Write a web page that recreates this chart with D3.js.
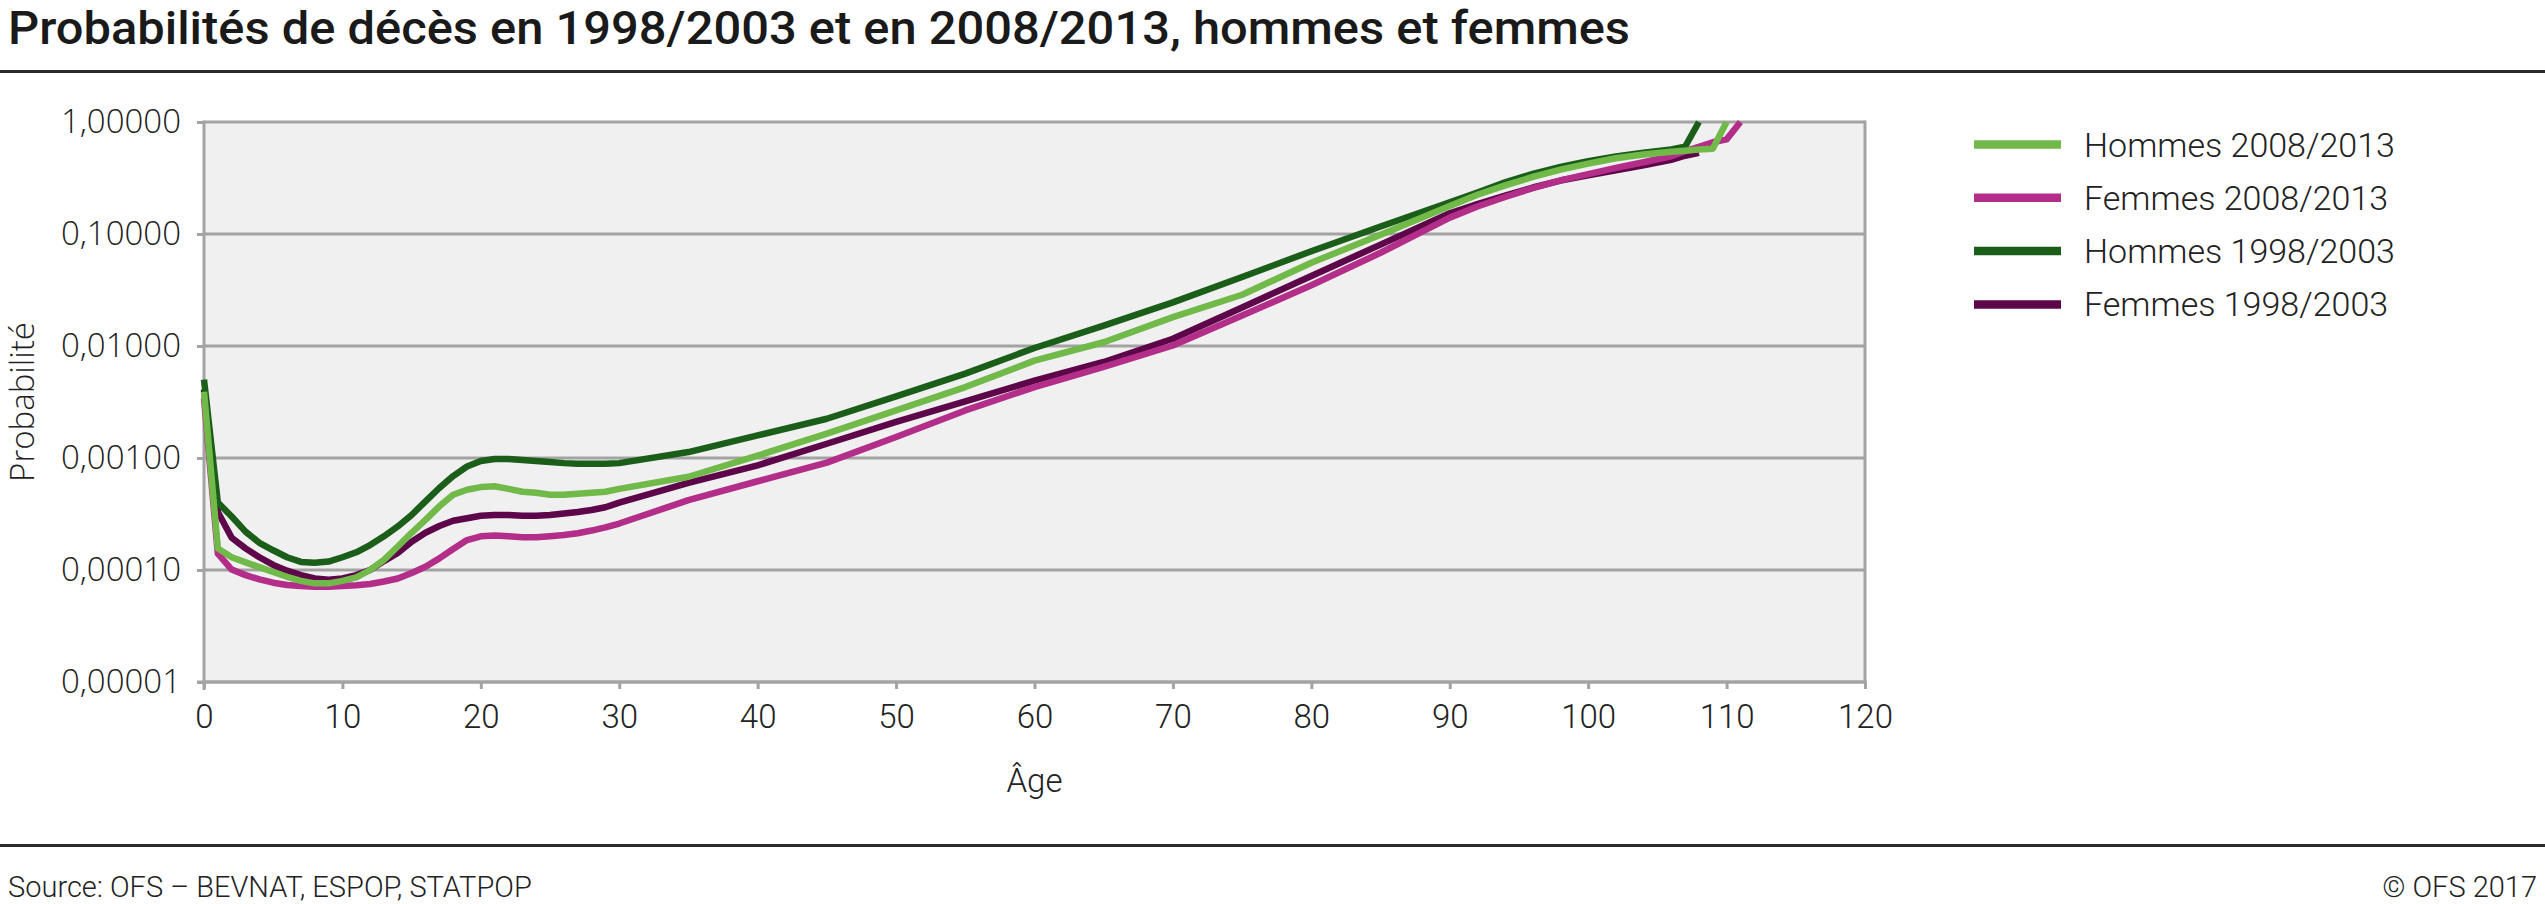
<!DOCTYPE html>
<html>
<head>
<meta charset="utf-8">
<script src="https://cdn.jsdelivr.net/npm/d3@7"></script>
<style>
  html, body { margin: 0; padding: 0; background: #ffffff; }
  svg { display: block; }
</style>
</head>
<body>
<svg id="chart" width="2545" height="904"></svg>
<script>
// ---------- data ----------
const ages = [0,1,2,3,4,5,6,7,8,9,10,11,12,13,14,15,16,17,18,19,20,21,22,23,24,25,26,27,28,29,30,
              35,40,45,50,55,60,65,70,75,80,85,90,92,94,96,98,100,102,104,106,107,108,109,110,111];

const hommes2008 = [0.0039,0.000156,0.00013,0.000117,0.000106,0.000096,0.000087,0.00008,0.000076,0.000076,
  0.00008,0.000086,0.0001,0.000123,0.000162,0.000215,0.00028,0.00037,0.00047,0.00052,
  0.00055,0.00056,0.00053,0.0005,0.00049,0.00047,0.00047,0.00048,0.00049,0.0005,0.00053,
  0.00068,0.00105,0.00165,0.00266,0.0043,0.0074,0.0108,0.0181,0.0287,0.0553,0.0986,0.178,
  0.224,0.272,0.323,0.376,0.425,0.475,0.513,0.542,0.555,0.569,0.576,1.0,null];

const femmes2008 = [0.0034,0.00014,0.000101,0.00009,0.0000826,0.000077,0.0000735,0.000072,0.000071,0.000071,
  0.000072,0.000073,0.000075,0.000079,0.000084,0.000094,0.000107,0.000127,0.000154,0.000185,
  0.0002,0.000203,0.0002,0.000196,0.000196,0.0002,0.000205,0.000213,0.000225,0.00024,0.00026,
  0.00042,0.00062,0.00091,0.00154,0.00266,0.0043,0.0065,0.0101,0.0187,0.0349,0.068,0.14,
  0.176,0.214,0.257,0.301,0.343,0.389,0.437,0.495,0.55,0.60,0.66,0.70,1.0];

const hommes1998 = [0.005,0.0004,0.0003,0.00022,0.000175,0.00015,0.00013,0.000118,0.000116,0.000119,
  0.00013,0.000144,0.000167,0.0002,0.000245,0.00031,0.00041,0.00054,0.00069,0.00084,
  0.00094,0.00098,0.00098,0.00096,0.00094,0.00092,0.0009,0.00089,0.00089,0.00089,0.0009,
  0.00113,0.00159,0.00224,0.00355,0.00567,0.0096,0.0152,0.0245,0.0413,0.0702,0.1167,0.192,
  0.235,0.289,0.344,0.397,0.447,0.492,0.531,0.568,0.601,1.0,null,null,null];

const femmes1998 = [0.0041,0.00033,0.000194,0.000156,0.00013,0.000111,0.0000986,0.00009,0.000084,0.000082,
  0.000084,0.00009,0.0001,0.00012,0.000142,0.000179,0.000215,0.000247,0.000275,0.00029,
  0.000305,0.00031,0.00031,0.000305,0.000305,0.00031,0.00032,0.00033,0.000343,0.000363,0.0004,
  0.0006,0.00086,0.00134,0.0021,0.0032,0.0049,0.0072,0.0116,0.0221,0.0422,0.0804,0.153,
  0.185,0.22,0.26,0.30,0.335,0.37,0.41,0.46,0.50,0.53,null,null,null];

const seriesNames = ["Hommes 2008/2013","Femmes 2008/2013","Hommes 1998/2003","Femmes 1998/2003"];
const seriesColors = ["#71b948","#b32e89","#1b5e19","#5e064a"];
const seriesValues = [hommes2008, femmes2008, hommes1998, femmes1998];
const drawOrder = [3, 1, 2, 0]; // bottom -> top

const xTicks = [0,10,20,30,40,50,60,70,80,90,100,110,120];
const yTicks = [0.00001,0.0001,0.001,0.01,0.1,1];
const yTickLabels = ["0,00001","0,00010","0,00100","0,01000","0,10000","1,00000"];

const titleText = "Probabilités de décès en 1998/2003 et en 2008/2013, hommes et femmes";
const xTitle = "Âge";
const yTitle = "Probabilité";
const sourceText = "Source: OFS – BEVNAT, ESPOP, STATPOP";
const copyrightText = "© OFS 2017";

// ---------- layout ----------
const svg = d3.select("#chart");
const W = 2545, H = 904;
const plot = {left: 204, right: 1865, top: 122, bottom: 682};
const gridColor = "#a3a3a3";

const x = d3.scaleLinear().domain([0,120]).range([plot.left, plot.right]);
const y = d3.scaleLog().domain([0.00001, 1]).range([plot.bottom, plot.top]);

// title
svg.append("text")
  .attr("x", 8).attr("y", 44)
  .attr("font-family", "Roboto, 'Liberation Sans', sans-serif")
  .attr("font-weight", 500)
  .attr("font-size", 46)
  .attr("fill", "#1a1a1a")
  .attr("textLength", 1622)
  .attr("lengthAdjust", "spacingAndGlyphs")
  .text(titleText);

// rules
svg.append("rect").attr("x", 0).attr("y", 70).attr("width", W).attr("height", 3).attr("fill", "#2b2b2b");
svg.append("rect").attr("x", 0).attr("y", 844).attr("width", W).attr("height", 3).attr("fill", "#2b2b2b");

// plot background
svg.append("rect")
  .attr("x", plot.left).attr("y", plot.top)
  .attr("width", plot.right - plot.left).attr("height", plot.bottom - plot.top)
  .attr("fill", "#f0f0f0");

// gridlines
svg.append("g").selectAll("line").data(yTicks).join("line")
  .attr("x1", plot.left).attr("x2", plot.right)
  .attr("y1", d => y(d)).attr("y2", d => y(d))
  .attr("stroke", gridColor).attr("stroke-width", 3);

// right border
svg.append("line")
  .attr("x1", plot.right).attr("x2", plot.right)
  .attr("y1", plot.top - 1.5).attr("y2", plot.bottom + 1.5)
  .attr("stroke", gridColor).attr("stroke-width", 3);

// y axis
const yAxis = d3.axisLeft(y).tickValues(yTicks)
  .tickFormat((d, i) => yTickLabels[i]).tickSize(7).tickPadding(16);
const gy = svg.append("g").attr("transform", `translate(${plot.left},0)`).call(yAxis);
gy.select(".domain").attr("stroke", gridColor).attr("stroke-width", 3)
  .attr("d", `M0,${plot.top - 1.5}V${plot.bottom + 8}`);
gy.selectAll(".tick line").attr("stroke", gridColor).attr("stroke-width", 3);
gy.selectAll(".tick text")
  .attr("font-family", "'Open Sans', sans-serif")
  .attr("font-weight", 300)
  .attr("font-size", 33)
  .attr("fill", "#222");

// x axis
const xAxis = d3.axisBottom(x).tickValues(xTicks).tickSize(7).tickPadding(16);
const gx = svg.append("g").attr("transform", `translate(0,${plot.bottom})`).call(xAxis);
gx.select(".domain").attr("stroke", gridColor).attr("stroke-width", 3)
  .attr("d", `M${plot.left - 7},0H${plot.right + 1.5}`);
gx.selectAll(".tick line").attr("stroke", gridColor).attr("stroke-width", 3);
gx.selectAll(".tick text")
  .attr("font-family", "Roboto, sans-serif")
  .attr("font-weight", 300)
  .attr("font-size", 33)
  .attr("fill", "#222");

// axis titles
svg.append("text")
  .attr("x", (plot.left + plot.right) / 2).attr("y", 792)
  .attr("text-anchor", "middle")
  .attr("font-family", "Roboto, sans-serif")
  .attr("font-weight", 300)
  .attr("font-size", 33)
  .attr("fill", "#222")
  .text(xTitle);

svg.append("text")
  .attr("transform", `translate(34,${(plot.top + plot.bottom) / 2}) rotate(-90)`)
  .attr("text-anchor", "middle")
  .attr("font-family", "'Open Sans', sans-serif")
  .attr("font-weight", 300)
  .attr("font-size", 33)
  .attr("fill", "#222")
  .text(yTitle);

// lines
const line = d3.line()
  .defined(d => d.v != null)
  .x(d => x(d.a))
  .y(d => y(d.v));

const linesG = svg.append("g");
drawOrder.forEach(si => {
  const data = ages.map((a, i) => ({a: a, v: seriesValues[si][i]}));
  linesG.append("path")
    .datum(data)
    .attr("d", line)
    .attr("fill", "none")
    .attr("stroke", seriesColors[si])
    .attr("stroke-width", 6.5)
    .attr("stroke-linejoin", "round")
    .attr("stroke-linecap", "butt");
});

// legend
const legend = svg.append("g");
seriesNames.forEach((name, i) => {
  const ly = 144.5 + i * 53.3;
  legend.append("line")
    .attr("x1", 1974).attr("x2", 2061)
    .attr("y1", ly).attr("y2", ly)
    .attr("stroke", seriesColors[i]).attr("stroke-width", 8.5);
  legend.append("text")
    .attr("x", 2084).attr("y", ly + 12)
    .attr("font-family", "Roboto, sans-serif")
    .attr("font-weight", 300)
    .attr("font-size", 34)
    .attr("fill", "#222")
    .text(name);
});

// footer
svg.append("text")
  .attr("x", 8).attr("y", 897)
  .attr("font-family", "Roboto, sans-serif")
  .attr("font-weight", 300)
  .attr("font-size", 29)
  .attr("fill", "#222")
  .text(sourceText);
svg.append("text")
  .attr("x", 2537).attr("y", 897)
  .attr("text-anchor", "end")
  .attr("font-family", "Roboto, sans-serif")
  .attr("font-weight", 300)
  .attr("font-size", 29)
  .attr("fill", "#222")
  .text(copyrightText);
</script>
</body>
</html>
